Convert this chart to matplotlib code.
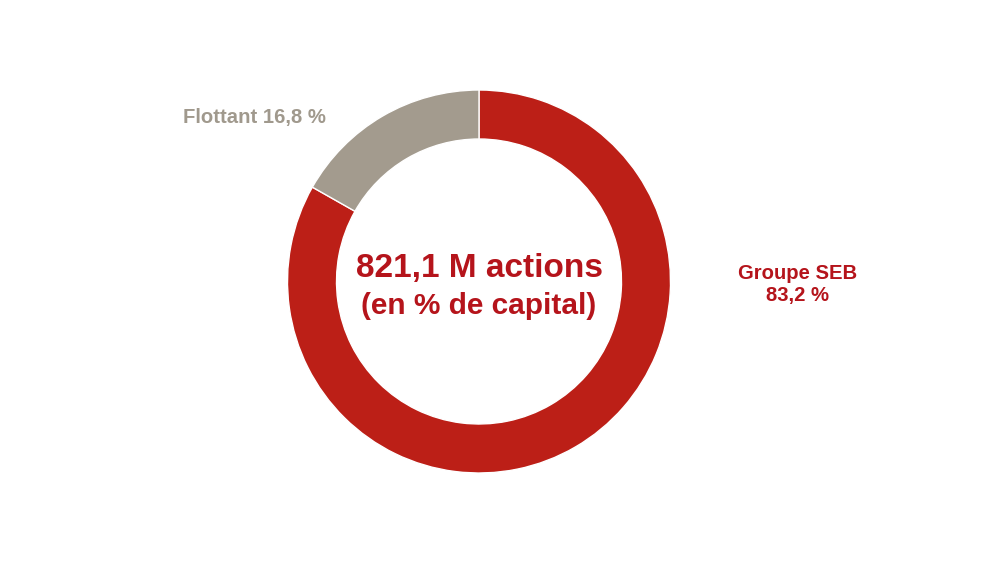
import matplotlib
matplotlib.use("Agg")
import matplotlib.pyplot as plt

labels = ["Groupe SEB", "Flottant"]
shares = [83.2, 16.8]
colors = ["#BC1F17", "#A39B8E"]
center_line1 = "821,1 M actions"
center_line2 = "(en % de capital)"

plt.rcParams['font.family'] = ['Liberation Sans', 'DejaVu Sans']

W, H = 1000, 563
fig = plt.figure(figsize=(10, 5.63), dpi=100)
ax = fig.add_axes([0, 0, 1, 1])

cx, cy, R = 479, H - 281.5, 191.5
ax.pie(shares, colors=colors, startangle=90, counterclock=False,
       center=(cx, cy), radius=R, frame=True,
       wedgeprops=dict(width=49, edgecolor='white', linewidth=1))
ax.set_xlim(0, W)
ax.set_ylim(0, H)
ax.set_aspect('equal')
ax.axis('off')

red_txt = "#B5141B"
gray_txt = "#A0998D"
ax.text(cx + 1, H - 276.5, center_line1, ha='center', va='baseline',
        fontsize=24, fontweight='bold', color=red_txt)
ax.text(cx, H - 314, center_line2, ha='center', va='baseline',
        fontsize=21.5, fontweight='bold', color=red_txt)

ax.text(798, H - 279, labels[0], ha='center', va='baseline',
        fontsize=14.6, fontweight='bold', color=red_txt)
ax.text(798, H - 301, f"{shares[0]:.1f} %".replace('.', ','),
        ha='center', va='baseline', fontsize=14.6, fontweight='bold',
        color=red_txt)
ax.text(254, H - 123, f"{labels[1]} {shares[1]:.1f} %".replace('.', ','),
        ha='center', va='baseline', fontsize=14.6, fontweight='bold',
        color=gray_txt)

fig.savefig("out.png", dpi=100, facecolor='white')
